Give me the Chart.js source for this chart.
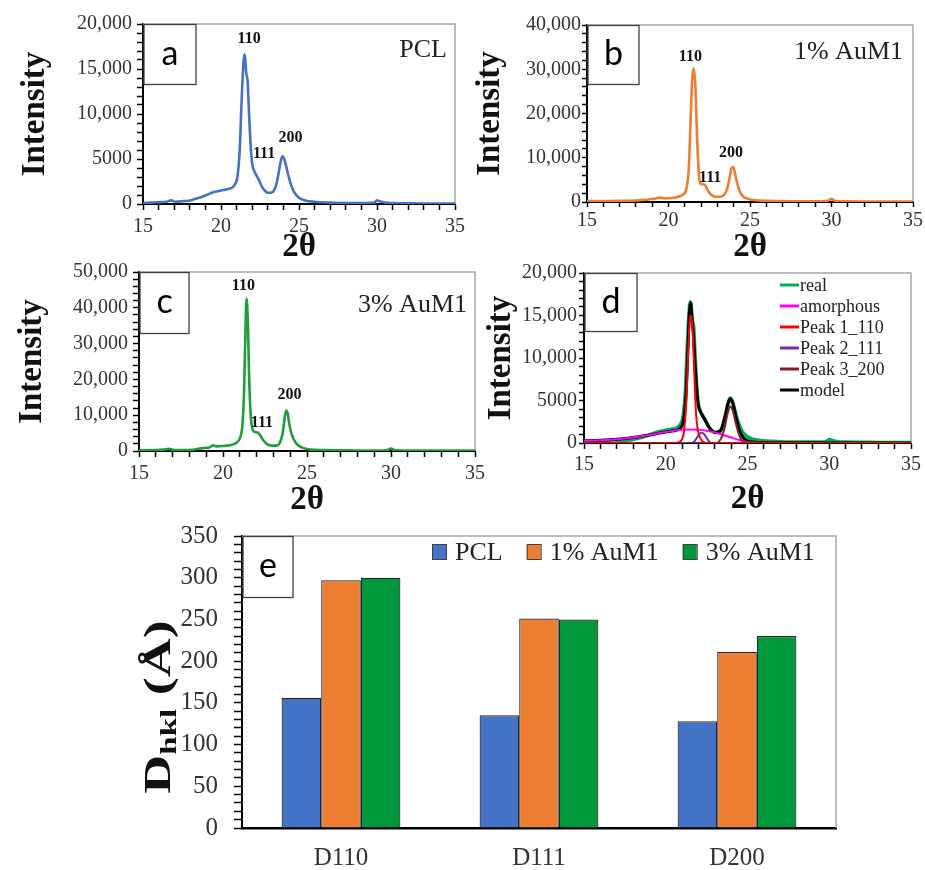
<!DOCTYPE html>
<html><head><meta charset="utf-8">
<script src="https://cdn.jsdelivr.net/npm/chart.js@4.4.1/dist/chart.umd.min.js"></script>
<style>
html,body{margin:0;padding:0;background:#fff;}
#wrap{position:relative;width:925px;height:870px;overflow:hidden;background:#fff;}
canvas{position:absolute;}
</style></head><body>
<div id="wrap">
<canvas id="ca" style="left:0px;top:0px" width="470" height="270"></canvas>
<canvas id="cb" style="left:460px;top:0px" width="465" height="270"></canvas>
<canvas id="cc" style="left:0px;top:255px" width="490" height="270"></canvas>
<canvas id="cd" style="left:470px;top:255px" width="455" height="270"></canvas>
<canvas id="ce" style="left:0px;top:505px" width="925" height="365"></canvas>
</div>
<script>
// ---------- tick labels ----------
const xTickLabels = ['15', '20', '25', '30', '35'];
const yTicksA = ['0', '5000', '10,000', '15,000', '20,000'];
const yTicksB = ['0', '10,000', '20,000', '30,000', '40,000'];
const yTicksC = ['0', '10,000', '20,000', '30,000', '40,000', '50,000'];
const yTicksD = ['0', '5000', '10,000', '15,000', '20,000'];
const yTicksE = ['0', '50', '100', '150', '200', '250', '300', '350'];

// ---------- panel a: PCL ----------
const pclX = [15, 15.5, 16, 16.5, 16.8, 17.1, 17.5, 18, 18.5, 19, 19.5, 20, 20.4, 20.7, 20.9, 21.05, 21.2, 21.3, 21.4, 21.5, 21.55, 21.62, 21.7, 21.8, 21.9, 22.0, 22.15, 22.3, 22.45, 22.6, 22.8, 23.0, 23.2, 23.4, 23.55, 23.7, 23.8, 23.9, 23.97, 24.05, 24.15, 24.3, 24.5, 24.7, 25.0, 25.4, 26, 27, 28, 29, 29.8, 30.0, 30.2, 30.5, 31, 32, 33, 34, 35];
const pclY = [100, 150, 200, 250, 400, 250, 300, 400, 650, 950, 1300, 1500, 1650, 1800, 2200, 3000, 6000, 10500, 14500, 16600, 16200, 14500, 13800, 10000, 6500, 4500, 3600, 3100, 2600, 2000, 1500, 1250, 1250, 1500, 2200, 3500, 4500, 5200, 5300, 5000, 4400, 3300, 2100, 1300, 700, 400, 250, 150, 100, 100, 150, 400, 300, 150, 100, 80, 60, 50, 50];

// ---------- panel b: 1% AuM1 ----------
const aum1X = [15, 16, 17, 18, 18.7, 19.2, 19.5, 19.8, 20.2, 20.6, 20.9, 21.1, 21.25, 21.35, 21.45, 21.55, 21.65, 21.75, 21.85, 21.95, 22.1, 22.25, 22.4, 22.6, 22.9, 23.2, 23.45, 23.6, 23.75, 23.85, 23.95, 24.05, 24.2, 24.4, 24.6, 24.9, 25.3, 26, 27, 28, 29, 29.8, 30.0, 30.2, 31, 32, 33, 34, 35];
const aum1Y = [200, 200, 250, 350, 500, 800, 1000, 800, 900, 1200, 1700, 3000, 8000, 18000, 27500, 30200, 26000, 15000, 7000, 4200, 4000, 3800, 2700, 1700, 1200, 1200, 1800, 3000, 5500, 7500, 7900, 7000, 4500, 2200, 1200, 700, 400, 250, 200, 150, 150, 300, 700, 300, 150, 120, 100, 100, 100];

// ---------- panel c: 3% AuM1 ----------
const aum3X = [15, 16, 16.5, 16.8, 17.1, 18, 18.8, 19.2, 19.4, 19.6, 20, 20.5, 20.8, 21.0, 21.15, 21.25, 21.32, 21.4, 21.48, 21.56, 21.65, 21.75, 21.9, 22.05, 22.2, 22.4, 22.6, 22.9, 23.2, 23.4, 23.55, 23.65, 23.75, 23.85, 23.95, 24.1, 24.3, 24.5, 24.8, 25.2, 26, 27, 28, 29, 29.8, 30.0, 30.2, 31, 32, 33, 34, 35];
const aum3Y = [200, 250, 400, 600, 300, 300, 800, 1000, 1600, 1300, 1400, 1700, 2300, 3500, 7000, 16000, 30000, 42600, 36000, 20000, 10000, 6200, 5300, 5200, 4500, 3000, 2000, 1500, 1500, 2500, 5000, 8500, 11300, 10500, 7500, 4500, 2500, 1500, 800, 400, 250, 200, 150, 150, 300, 700, 300, 150, 120, 100, 100, 100];

// ---------- panel d: deconvolution of PCL ----------
const amorphX = [15, 16, 17, 18, 19, 20, 20.5, 21, 21.5, 22, 22.5, 23, 23.5, 24, 24.5, 25, 25.5, 26, 28, 35];
const amorphY = [250, 330, 450, 650, 950, 1300, 1450, 1550, 1580, 1550, 1450, 1250, 950, 650, 350, 120, 30, 0, 0, 0];
const peak1X = [15, 20.6, 20.9, 21.1, 21.25, 21.35, 21.45, 21.55, 21.65, 21.75, 21.85, 22.0, 22.2, 22.5, 35];
const peak1Y = [0, 0, 200, 1200, 4500, 9500, 14000, 15000, 13000, 8000, 3500, 1200, 300, 0, 0];
const peak2X = [15, 21.6, 21.8, 22.0, 22.2, 22.4, 22.6, 22.8, 35];
const peak2Y = [0, 0, 300, 900, 1250, 900, 300, 0, 0];
const peak3X = [15, 23.1, 23.4, 23.6, 23.8, 23.95, 24.1, 24.3, 24.5, 24.8, 35];
const peak3Y = [0, 0, 600, 1800, 3600, 4300, 3800, 2200, 900, 100, 0];
const modelX = [15, 16, 17, 18, 19, 20, 20.5, 20.9, 21.1, 21.25, 21.35, 21.45, 21.52, 21.6, 21.7, 21.8, 21.9, 22.0, 22.2, 22.4, 22.6, 22.8, 23.0, 23.2, 23.4, 23.6, 23.8, 23.95, 24.1, 24.3, 24.5, 24.8, 25.2, 26, 28, 35];
const modelY = [250, 330, 450, 650, 950, 1300, 1450, 1750, 2800, 6000, 11000, 15500, 16500, 14800, 12500, 9000, 6200, 4400, 3400, 2700, 2000, 1500, 1250, 1300, 1650, 3000, 4600, 5200, 4700, 3000, 1500, 500, 150, 50, 20, 0];

// ---------- panel e: crystallite sizes ----------
const sizeCategories = ['D110', 'D111', 'D200'];
const sizePCL = [156, 135, 128];
const size1AuM1 = [297, 251, 211];
const size3AuM1 = [300, 250, 230];

// ---------- helpers ----------
const SERIF = '"Liberation Serif", "Times New Roman", serif';
const pts = (xs, ys) => xs.map((x, i) => ({x: x, y: ys[i]}));

const deco = {
  id: 'deco',
  beforeDatasetsDraw(chart, args, o) {
    const {ctx, chartArea: a} = chart;
    ctx.save();
    ctx.strokeStyle = '#a6a6a6'; ctx.lineWidth = 1.5;
    ctx.beginPath(); ctx.moveTo(a.left, a.top); ctx.lineTo(a.right, a.top); ctx.lineTo(a.right, a.bottom); ctx.stroke();
    ctx.restore();
  },
  afterDraw(chart, args, o) {
    const {ctx, chartArea: a, scales} = chart;
    ctx.save();
    (o.notes || []).forEach(n => {
      ctx.font = 'bold 16px ' + SERIF; ctx.fillStyle = '#111';
      ctx.textAlign = 'center'; ctx.textBaseline = 'middle';
      ctx.fillText(n.text, scales.x.getPixelForValue(n.x), scales.y.getPixelForValue(n.y));
    });
    if (o.name) {
      ctx.font = '26px ' + SERIF; ctx.fillStyle = '#222';
      ctx.textAlign = 'right'; ctx.textBaseline = 'middle';
      ctx.fillText(o.name, a.right - o.nameDx, a.top + o.nameDy);
    }
    if (o.legendLines) {
      const L = o.legendLines;
      ctx.font = '18px ' + SERIF; ctx.textAlign = 'left'; ctx.textBaseline = 'middle';
      chart.data.datasets.forEach((d, i) => {
        const y = L.y + i * L.step;
        ctx.strokeStyle = d.borderColor; ctx.lineWidth = 3;
        ctx.beginPath(); ctx.moveTo(L.x, y); ctx.lineTo(L.x + 19, y); ctx.stroke();
        ctx.fillStyle = '#222'; ctx.fillText(d.label, L.x + 20, y + 1);
      });
    }
    if (o.legendBoxes) {
      const L = o.legendBoxes;
      let x = L.x;
      ctx.font = '26px ' + SERIF; ctx.textAlign = 'left'; ctx.textBaseline = 'middle';
      chart.data.datasets.forEach(d => {
        ctx.fillStyle = d.backgroundColor; ctx.fillRect(x, L.y - 7.5, 14, 15);
        ctx.strokeStyle = '#404040'; ctx.lineWidth = 1; ctx.strokeRect(x + 0.5, L.y - 7.5, 14, 15);
        ctx.fillStyle = '#222'; ctx.fillText(d.label, x + 23, L.y + 1);
        x += 23 + ctx.measureText(d.label).width + 24;
      });
    }
    if (o.yTitle) {
      const T = o.yTitle;
      ctx.save();
      ctx.translate(T.x, T.y); ctx.rotate(-Math.PI / 2); ctx.scale(1, 0.7);
      const f1 = 'bold 54px ' + SERIF, f2 = 'bold 33px ' + SERIF;
      ctx.font = f1; const wD = ctx.measureText(T.main).width; const wR = ctx.measureText(T.rest).width;
      ctx.font = f2; const wS = ctx.measureText(T.sub).width;
      let x = -(wD + wS + wR) / 2;
      ctx.fillStyle = '#111'; ctx.textAlign = 'left'; ctx.textBaseline = 'middle';
      ctx.font = f1; ctx.fillText(T.main, x, 0); x += wD;
      ctx.font = f2; ctx.fillText(T.sub, x, 14); x += wS;
      ctx.font = f1; ctx.fillText(T.rest, x, 0);
      ctx.restore();
    }
    // panel letter box
    ctx.fillStyle = '#fff'; ctx.fillRect(a.left + 1, a.top, o.boxW, o.boxH);
    ctx.strokeStyle = '#404040'; ctx.lineWidth = 1.3;
    ctx.strokeRect(a.left + 1, a.top + 0.5, o.boxW, o.boxH);
    ctx.fillStyle = '#000'; ctx.font = '34px Lato, "Open Sans", sans-serif';
    ctx.textAlign = 'center'; ctx.textBaseline = 'middle';
    ctx.fillText(o.letter, a.left + 1 + o.boxW / 2, a.top + o.boxH / 2);
    ctx.restore();
  }
};

function xrdScales(c) {
  return {
    x: {
      type: 'linear', min: 15, max: 35,
      afterFit: s => { s.height = c.xh; },
      border: {display: true, color: '#000', width: 2},
      grid: {display: true, drawOnChartArea: false, drawTicks: true, tickLength: c.xtl, color: '#000', tickWidth: 1.5},
      ticks: {stepSize: 1, autoSkip: false, maxRotation: 0, padding: c.xpad, color: '#333',
        font: {family: SERIF, size: 20},
        callback: v => (v % 5 === 0 ? xTickLabels[(v - 15) / 5] : '')},
      title: {display: true, text: '2θ', color: '#111',
        font: {family: SERIF, size: 33, weight: 'bold', lineHeight: 1}, padding: {top: 0, bottom: c.xtp}}
    },
    y: {
      min: 0, max: c.ymax,
      afterFit: s => { s.width = c.yw; },
      border: {display: true, color: '#000', width: 2},
      grid: {display: true, drawOnChartArea: false, drawTicks: true, tickLength: c.ytl, color: '#000', tickWidth: 1.5},
      ticks: {stepSize: c.ystep, autoSkip: false, padding: c.ypad, color: '#333',
        font: {family: SERIF, size: 20},
        callback: v => (v % c.ymaj === 0 ? c.ylabels[Math.round(v / c.ymaj)] : '')},
      title: {display: true, text: 'Intensity', color: '#111',
        font: {family: SERIF, size: 33, weight: 'bold', lineHeight: 1}, padding: {top: c.ytp, bottom: 0}}
    }
  };
}

function lineDs(label, xs, ys, color, w, order) {
  return {label: label, data: pts(xs, ys), borderColor: color, backgroundColor: color,
    borderWidth: w, pointRadius: 0, fill: false, cubicInterpolationMode: 'monotone', order: order || 0};
}

const common = {responsive: false, animation: false, devicePixelRatio: 1};

// ---- a ----
new Chart(document.getElementById('ca'), {
  type: 'line',
  data: {datasets: [lineDs('PCL', pclX, pclY, '#4472c4', 2.6)]},
  options: Object.assign({}, common, {
    layout: {padding: {left: 0, top: 24, right: 10, bottom: 0}},
    scales: xrdScales({xh: 66, xtl: 6, xpad: 5, xtp: 6.5, ymax: 20000, yw: 143, ytl: 6, ypad: 5, ystep: 1000, ymaj: 5000, ylabels: yTicksA, ytp: 18.5}),
    plugins: {legend: {display: false}, tooltip: {enabled: false},
      deco: {letter: 'a', boxW: 52, boxH: 60, name: 'PCL', nameDx: 8, nameDy: 26,
        notes: [{text: '110', x: 21.8, y: 18300}, {text: '111', x: 22.76, y: 5550}, {text: '200', x: 24.46, y: 7330}]}}
  }),
  plugins: [deco]
});

// ---- b ----
new Chart(document.getElementById('cb'), {
  type: 'line',
  data: {datasets: [lineDs('1% AuM1', aum1X, aum1Y, '#ed7d31', 2.6)]},
  options: Object.assign({}, common, {
    layout: {padding: {left: 0, top: 25, right: 10, bottom: 0}},
    scales: xrdScales({xh: 68, xtl: 5, xpad: 2, xtp: 6.5, ymax: 40000, yw: 127, ytl: 5, ypad: 1, ystep: 2000, ymaj: 10000, ylabels: yTicksB, ytp: 13.5}),
    plugins: {legend: {display: false}, tooltip: {enabled: false},
      deco: {letter: 'b', boxW: 51, boxH: 59, name: '1% AuM1', nameDx: 10, nameDy: 27,
        notes: [{text: '110', x: 21.34, y: 32770}, {text: '111', x: 22.56, y: 5420}, {text: '200', x: 23.84, y: 11070}]}}
  }),
  plugins: [deco]
});

// ---- c ----
new Chart(document.getElementById('cc'), {
  type: 'line',
  data: {datasets: [lineDs('3% AuM1', aum3X, aum3Y, '#1f9e3a', 2.6)]},
  options: Object.assign({}, common, {
    layout: {padding: {left: 0, top: 15, right: 10, bottom: 0}},
    scales: xrdScales({xh: 74, xtl: 6, xpad: 5, xtp: 8.5, ymax: 50000, yw: 139, ytl: 6, ypad: 5, ystep: 2000, ymaj: 10000, ylabels: yTicksC, ytp: 15.5}),
    plugins: {legend: {display: false}, tooltip: {enabled: false},
      deco: {letter: 'c', boxW: 49, boxH: 61, name: '3% AuM1', nameDx: 8, nameDy: 33,
        notes: [{text: '110', x: 21.21, y: 46130}, {text: '111', x: 22.32, y: 7730}, {text: '200', x: 23.96, y: 15750}]}}
  }),
  plugins: [deco]
});

// ---- d ----
new Chart(document.getElementById('cd'), {
  type: 'line',
  data: {datasets: [
    lineDs('real', pclX, pclY, '#00b050', 3.6, 6),
    lineDs('amorphous', amorphX, amorphY, '#ff00ff', 2, 4),
    lineDs('Peak 1_110', peak1X, peak1Y, '#ff0000', 2, 1),
    lineDs('Peak 2_111', peak2X, peak2Y, '#7030a0', 2, 2),
    lineDs('Peak 3_200', peak3X, peak3Y, '#8b1a1a', 2, 3),
    lineDs('model', modelX, modelY, '#000000', 3, 5)
  ]},
  options: Object.assign({}, common, {
    layout: {padding: {left: 0, top: 18, right: 10, bottom: 0}},
    scales: xrdScales({xh: 82, xtl: 6, xpad: 4, xtp: 9.5, ymax: 20000, yw: 114, ytl: 5, ypad: 2, ystep: 1000, ymaj: 5000, ylabels: yTicksD, ytp: 14.5}),
    plugins: {legend: {display: false}, tooltip: {enabled: false},
      deco: {letter: 'd', boxW: 52, boxH: 58, legendLines: {x: 310, y: 30, step: 21}}}
  }),
  plugins: [deco]
});

// ---- e ----
new Chart(document.getElementById('ce'), {
  type: 'bar',
  data: {labels: sizeCategories, datasets: [
    {label: 'PCL', data: sizePCL, backgroundColor: '#4472c4', borderColor: '#262626', borderWidth: 1.2},
    {label: '1% AuM1', data: size1AuM1, backgroundColor: '#ed7d31', borderColor: '#262626', borderWidth: 1.2},
    {label: '3% AuM1', data: size3AuM1, backgroundColor: '#00983a', borderColor: '#262626', borderWidth: 1.2}
  ]},
  options: Object.assign({}, common, {
    layout: {padding: {left: 0, top: 27, right: 89, bottom: 0}},
    datasets: {bar: {categoryPercentage: 0.6, barPercentage: 1.0}},
    scales: {
      x: {
        afterFit: s => { s.height = 42; },
        border: {display: true, color: '#000', width: 2.5},
        grid: {display: false, drawTicks: false},
        ticks: {padding: 15, color: '#333', font: {family: SERIF, size: 25}}
      },
      y: {
        min: 0, max: 350,
        afterFit: s => { s.width = 242; },
        border: {display: true, color: '#000', width: 2},
        grid: {display: true, drawOnChartArea: false, drawTicks: true, tickLength: 8, color: '#000', tickWidth: 1.5},
        ticks: {stepSize: 10, autoSkip: false, padding: 16, color: '#333', font: {family: SERIF, size: 25},
          callback: v => (v % 50 === 0 ? yTicksE[Math.round(v / 50)] : '')}
      }
    },
    plugins: {legend: {display: false}, tooltip: {enabled: false},
      deco: {letter: 'e', boxW: 50, boxH: 61, legendBoxes: {x: 432, y: 47},
        yTitle: {x: 160, y: 202, main: 'D', sub: 'hkl', rest: ' (Å)'}}}
  }),
  plugins: [deco]
});
</script>
</body></html>
